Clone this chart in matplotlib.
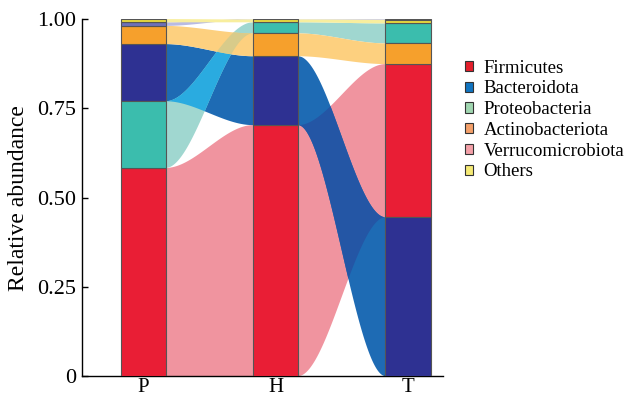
import numpy as np
import matplotlib.pyplot as plt
from matplotlib.patches import Polygon, Patch

plt.rcParams['font.family'] = ['Liberation Serif', 'DejaVu Serif']

stages = ['P', 'H', 'T']
phyla = ['Firmicutes', 'Bacteroidota', 'Proteobacteria',
         'Actinobacteriota', 'Verrucomicrobiota', 'Others']

# relative abundance per stage (P, H, T)
firmicutes = [0.583, 0.703, 0.429]
bacteroidota = [0.160, 0.193, 0.445]
proteobacteria = [0.187, 0.031, 0.056]
actinobacteriota = [0.051, 0.064, 0.058]
verrucomicrobiota = [0.010, 0.001, 0.002]
others = [0.009, 0.008, 0.010]

abundance = np.array([firmicutes, bacteroidota, proteobacteria,
                      actinobacteriota, verrucomicrobiota, others])

bar_colors = ['#e91e35', '#2e3192', '#3bbdad', '#f6a02c', '#6e70b8', '#e8d83e']
flow_colors = ['#f0949f', '#1e6bb4', '#a0d7d0', '#fdd07f', '#b9bbe3', '#f8ee9e']
legend_colors = ['#e41e2b', '#1174c0', '#a0d6b0', '#f4a06a', '#f4a0a8', '#f5ea75']

# colour where two crossing ribbons overlap: (gap, lower, upper) -> colour
overlap_colors = {
    (0, 1, 2): '#2aabe0',
    (0, 3, 2): '#d8cb8a',
    (1, 0, 1): '#2456a5',
}

bar_width = 0.34
x = np.arange(1, len(stages) + 1)

# stack each column largest-first from the bottom
lows = np.zeros_like(abundance)
for j in range(len(stages)):
    order = np.argsort(-abundance[:, j], kind='stable')
    base = 0.0
    for k in order:
        lows[k, j] = base
        base += abundance[k, j]
highs = lows + abundance

fig = plt.figure(figsize=(6.25, 3.98), dpi=100)
ax = fig.add_axes([0.131, 0.055, 0.578, 0.897])

t = np.linspace(0, 1, 120)
s = t * t * (3 - 2 * t)


def ribbon(j, k):
    x0 = x[j] + bar_width / 2
    x1 = x[j + 1] - bar_width / 2
    xs = x0 + (x1 - x0) * t
    lo = lows[k, j] + (lows[k, j + 1] - lows[k, j]) * s
    hi = highs[k, j] + (highs[k, j + 1] - highs[k, j]) * s
    pts = np.vstack([np.column_stack([xs, lo]), np.column_stack([xs[::-1], hi[::-1]])])
    return pts


for j in range(len(stages) - 1):
    patches = {}
    for k in range(len(phyla)):
        p = Polygon(ribbon(j, k), closed=True, facecolor=flow_colors[k],
                    edgecolor='none', zorder=1)
        ax.add_patch(p)
        patches[k] = p
    for (g, a, b), c in overlap_colors.items():
        if g != j:
            continue
        ov = Polygon(ribbon(j, b), closed=True, facecolor=c, edgecolor='none', zorder=2)
        ax.add_patch(ov)
        ov.set_clip_path(patches[a])

for k in range(len(phyla)):
    ax.bar(x, abundance[k], bottom=lows[k], width=bar_width, color=bar_colors[k],
           edgecolor='#555555', linewidth=0.8, zorder=3)

ax.set_xlim(0.538, 3.265)
ax.set_ylim(0, 1)
ax.set_xticks(x)
ax.set_xticklabels(stages)
ax.set_yticks([0, 0.25, 0.5, 0.75, 1.0])
ax.set_yticklabels(['0', '0.25', '0.50', '0.75', '1.00'])
ax.spines['top'].set_visible(False)
ax.spines['right'].set_visible(False)
for sp in ('left', 'bottom'):
    ax.spines[sp].set_linewidth(1.0)
ax.tick_params(direction='in', length=4, width=1, labelsize=16, pad=4)
ax.tick_params(axis='x', labelsize=15, pad=1.5)
ax.set_ylabel('Relative abundance', fontsize=17, labelpad=6)

handles = [Patch(facecolor=c, edgecolor='#333333', linewidth=0.8) for c in legend_colors]
ax.legend(handles, phyla, loc='upper left', bbox_to_anchor=(0.744, 0.85),
          bbox_transform=fig.transFigure, frameon=False, fontsize=13.5,
          handlelength=0.45, handleheight=0.45, handletextpad=0.55,
          labelspacing=0.2, borderpad=0, borderaxespad=0)

fig.savefig('out.png', dpi=100)
